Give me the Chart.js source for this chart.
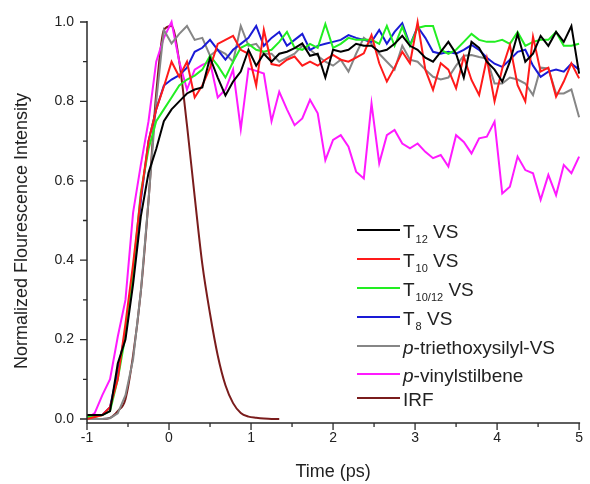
<!DOCTYPE html>
<html><head><meta charset="utf-8">
<script src="https://cdn.jsdelivr.net/npm/chart.js@4/dist/chart.umd.min.js"></script>
<style>html,body{margin:0;padding:0;background:#fff}#wrap{width:590px;height:484px;position:relative}</style>
</head><body><div id="wrap"><canvas id="c" width="590" height="484"></canvas></div>
<script>
// ---- data (time in ps, normalized intensity) ----
const times = [-1.000,-0.906,-0.813,-0.719,-0.625,-0.531,-0.438,-0.344,-0.250,-0.156,-0.063,0.031,0.125,0.219,0.313,0.406,0.500,0.594,0.688,0.781,0.875,0.969,1.063,1.156,1.250,1.344,1.438,1.531,1.625,1.719,1.813,1.906,2.000,2.094,2.188,2.281,2.375,2.469,2.563,2.656,2.750,2.844,2.938,3.031,3.125,3.219,3.313,3.406,3.500,3.594,3.688,3.781,3.875,3.969,4.063,4.156,4.250,4.344,4.438,4.531,4.625,4.719,4.813,4.906,5.000];

const t12VS = [0.01,0.01,0.01,0.02,0.14,0.20,0.34,0.51,0.62,0.68,0.75,0.78,0.80,0.82,0.83,0.835,0.91,0.86,0.815,0.85,0.875,0.93,0.89,0.92,0.90,0.92,0.925,0.934,0.946,0.915,0.92,0.86,0.93,0.925,0.93,0.945,0.94,0.94,0.925,0.93,0.945,0.965,0.94,0.93,0.91,0.90,0.925,0.95,0.92,0.86,0.95,0.935,0.90,0.88,0.85,0.90,0.97,0.90,0.92,0.965,0.94,0.975,0.95,0.99,0.87];

const t10VS = [0.0,0.005,0.01,0.03,0.10,0.24,0.39,0.56,0.70,0.78,0.837,0.90,0.862,0.90,0.81,0.84,0.885,0.945,0.955,0.965,0.93,0.92,0.84,0.98,0.894,0.89,0.905,0.913,0.89,0.90,0.89,0.905,0.917,0.905,0.90,0.91,0.921,0.967,0.896,0.85,0.885,0.925,0.896,1.0,0.88,0.829,0.896,0.88,0.833,0.913,0.854,0.816,0.908,0.80,0.883,0.942,0.841,0.80,0.963,0.875,0.885,0.812,0.85,0.896,0.858];

const t1012VS = [0.005,0.005,0.01,0.02,0.10,0.21,0.37,0.57,0.68,0.75,0.78,0.81,0.84,0.855,0.865,0.88,0.915,0.89,0.86,0.90,0.935,0.945,0.93,0.925,0.93,0.95,0.975,0.935,0.93,0.945,0.935,0.995,0.935,0.945,0.96,0.955,0.955,0.955,0.945,0.99,0.94,0.988,0.94,0.985,0.99,0.99,0.93,0.92,0.93,0.95,0.97,0.955,0.95,0.95,0.955,0.945,0.975,0.94,0.95,0.955,0.955,0.975,0.94,0.94,0.945];

const t8VS = [0.005,0.008,0.01,0.03,0.12,0.22,0.36,0.55,0.70,0.78,0.84,0.855,0.866,0.885,0.925,0.935,0.955,0.93,0.905,0.93,0.945,0.96,0.99,0.94,0.96,0.975,0.94,0.955,0.97,0.93,0.94,0.945,0.95,0.955,0.967,0.96,0.955,0.95,0.98,0.945,0.975,0.997,0.942,0.988,0.96,0.925,0.92,0.925,0.92,0.93,0.942,0.93,0.91,0.895,0.887,0.905,0.925,0.93,0.89,0.862,0.875,0.88,0.875,0.895,0.88];

const triethoxysilylVS = [0.0,0.0,0.0,0.002,0.014,0.06,0.15,0.32,0.55,0.80,0.98,0.946,0.97,0.99,0.955,0.96,0.915,0.93,0.92,0.90,0.99,0.94,0.945,0.92,0.92,0.90,0.91,0.92,0.94,0.93,0.915,0.90,0.89,0.905,0.875,0.92,0.96,0.945,0.92,0.90,0.88,0.94,0.905,0.90,0.88,0.862,0.855,0.86,0.89,0.915,0.917,0.912,0.908,0.845,0.845,0.86,0.855,0.845,0.816,0.885,0.883,0.82,0.82,0.83,0.76];

const vinylstilbene = [0.0,0.015,0.06,0.10,0.207,0.30,0.52,0.64,0.75,0.90,0.96,1.0,0.90,0.83,0.88,0.892,0.90,0.81,0.83,0.88,0.73,0.883,0.877,0.87,0.75,0.824,0.78,0.74,0.757,0.804,0.77,0.652,0.703,0.715,0.686,0.623,0.606,0.795,0.644,0.715,0.728,0.694,0.682,0.694,0.673,0.657,0.665,0.636,0.715,0.698,0.669,0.707,0.711,0.749,0.568,0.585,0.661,0.627,0.619,0.552,0.615,0.564,0.640,0.619,0.661];

const irf = [0,0,0,0.003,0.02,0.05,0.16,0.32,0.55,0.82,0.98,0.99,0.90,0.74,0.56,0.39,0.265,0.16,0.085,0.04,0.015,0.006,0.003,0.001,0.0,0.0];

const seriesNames = ['T12 VS','T10 VS','T10/12 VS','T8 VS','p-triethoxysilyl-VS','p-vinylstilbene','IRF'];
const seriesColors = ['#000000','#ff1a1a','#22ee22','#1a1ad6','#868686','#ff1aff','#7a1c1c'];
const seriesValues = [t12VS,t10VS,t1012VS,t8VS,triethoxysilylVS,vinylstilbene,irf];

const xTicks = [-1,0,1,2,3,4,5];
const xMinorTicks = [-0.5,0.5,1.5,2.5,3.5,4.5];
const yTicks = [0,0.2,0.4,0.6,0.8,1.0];
const yTickLabels = ['0.0','0.2','0.4','0.6','0.8','1.0'];
const yMinorTicks = [0.1,0.3,0.5,0.7,0.9];
const xTitle = 'Time (ps)';
const yTitle = 'Normalized Flourescence Intensity';

// legend rich text: [text, style] style: n normal, s subscript, i italic
const legendParts = [
  [['T','n'],['12','s'],[' VS','n']],
  [['T','n'],['10','s'],[' VS','n']],
  [['T','n'],['10/12','s'],[' VS','n']],
  [['T','n'],['8','s'],[' VS','n']],
  [['p','i'],['-triethoxysilyl-VS','n']],
  [['p','i'],['-vinylstilbene','n']],
  [['IRF','n']]
];

const FONT = "'Liberation Sans', Arial, sans-serif";
const TXT = '#222222';

const datasets = seriesValues.map((vals, k) => ({
  label: seriesNames[k],
  data: vals.map((v, i) => ({x: times[i], y: v})),
  borderColor: seriesColors[k],
  backgroundColor: seriesColors[k],
  borderWidth: 2,
  pointRadius: 0,
  fill: false,
  clip: 6,
  tension: 0,
  cubicInterpolationMode: k === 6 ? 'monotone' : 'default'
}));

const decor = {
  id: 'decor',
  afterDraw(chart) {
    const ctx = chart.ctx;
    const xs = chart.scales.x, ys = chart.scales.y;
    const ca = chart.chartArea;
    ctx.save();
    ctx.strokeStyle = '#2a2a2a';
    ctx.lineWidth = 1.5;
    ctx.beginPath();
    ctx.moveTo(ca.left, ca.top - 1);
    ctx.lineTo(ca.left, ca.bottom);
    ctx.lineTo(ca.right + 1, ca.bottom);
    ctx.stroke();
    ctx.lineWidth = 1.3;
    ctx.beginPath();
    yTicks.forEach(v => { const p = ys.getPixelForValue(v); ctx.moveTo(ca.left, p); ctx.lineTo(ca.left - 7, p); });
    yMinorTicks.forEach(v => { const p = ys.getPixelForValue(v); ctx.moveTo(ca.left, p); ctx.lineTo(ca.left - 4, p); });
    xTicks.forEach(v => { const p = xs.getPixelForValue(v); ctx.moveTo(p, ca.bottom); ctx.lineTo(p, ca.bottom + 7); });
    xMinorTicks.forEach(v => { const p = xs.getPixelForValue(v); ctx.moveTo(p, ca.bottom); ctx.lineTo(p, ca.bottom + 4); });
    ctx.stroke();

    // axis titles
    ctx.fillStyle = TXT;
    ctx.font = '18px ' + FONT;
    ctx.textAlign = 'center';
    ctx.textBaseline = 'alphabetic';
    ctx.fillText(xTitle, (ca.left + ca.right) / 2, 477);
    ctx.save();
    ctx.translate(27, 231);
    ctx.rotate(-Math.PI / 2);
    ctx.fillText(yTitle, 0, 0);
    ctx.restore();

    // legend
    const rowY = [231, 260, 289, 318, 347, 375, 399];
    legendParts.forEach((parts, r) => {
      const cy = rowY[r];
      ctx.strokeStyle = seriesColors[r];
      ctx.lineWidth = 2;
      ctx.beginPath();
      ctx.moveTo(357, cy - 1);
      ctx.lineTo(400, cy - 1);
      ctx.stroke();
      let x = 403;
      const base = cy + 7;
      ctx.textAlign = 'left';
      ctx.fillStyle = TXT;
      parts.forEach(([t, s]) => {
        if (s === 's') { ctx.font = '11px ' + FONT; ctx.fillText(t, x + 1, base + 5); x += ctx.measureText(t).width + 1; }
        else if (s === 'i') { ctx.font = 'italic 19px ' + FONT; ctx.fillText(t, x, base); x += ctx.measureText(t).width; }
        else { ctx.font = '19px ' + FONT; ctx.fillText(t, x, base); x += ctx.measureText(t).width; }
      });
    });
    ctx.restore();
  }
};

new Chart(document.getElementById('c'), {
  type: 'line',
  data: { datasets },
  options: {
    responsive: false,
    animation: false,
    devicePixelRatio: 1,
    layout: { padding: { left: 0, right: 7, top: 22, bottom: 0 } },
    plugins: { legend: { display: false }, tooltip: { enabled: false } },
    scales: {
      x: {
        type: 'linear', min: -1, max: 5,
        grid: { display: false, drawTicks: false, tickLength: 0 },
        border: { display: false },
        afterBuildTicks: s => { s.ticks = xTicks.map(v => ({ value: v })); },
        afterFit: s => { s.height = 61; },
        ticks: { padding: 7, color: TXT, font: { family: FONT, size: 14 }, maxRotation: 0, autoSkip: false,
                 callback: v => String(v) }
      },
      y: {
        type: 'linear', min: -0.0101, max: 1.0,
        grid: { display: false, drawTicks: false, tickLength: 0 },
        border: { display: false },
        afterBuildTicks: s => { s.ticks = yTicks.map(v => ({ value: v })); },
        afterFit: s => { s.width = 87; },
        ticks: { padding: 13, color: TXT, font: { family: FONT, size: 14 }, autoSkip: false,
                 callback: (v) => { const i = yTicks.findIndex(t => Math.abs(t - v) < 1e-6); return i >= 0 ? yTickLabels[i] : ''; } }
      }
    }
  },
  plugins: [decor]
});
</script>
</body></html>
